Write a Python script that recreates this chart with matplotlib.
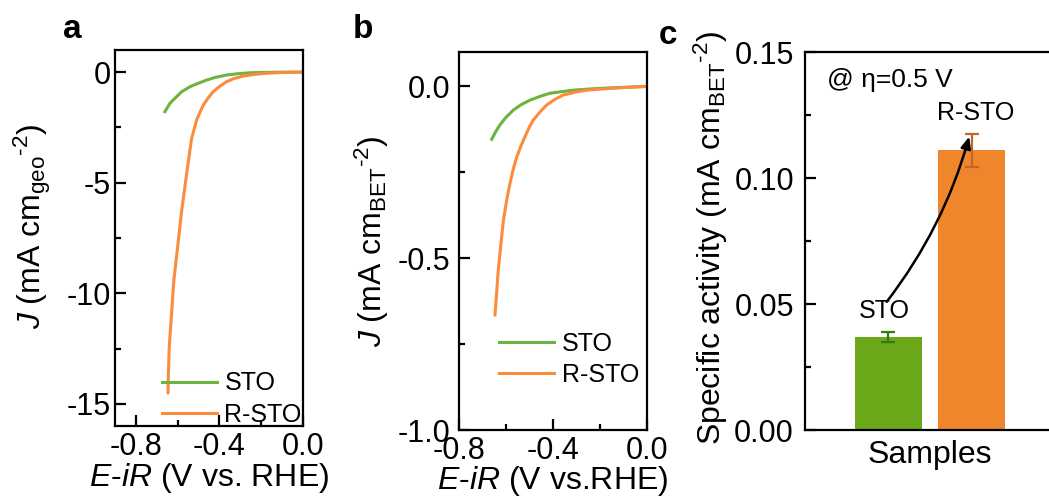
import matplotlib
matplotlib.use("Agg")
import matplotlib.pyplot as plt
from matplotlib.ticker import MultipleLocator

plt.rcParams['font.family'] = ['Liberation Sans', 'DejaVu Sans']
plt.rcParams['mathtext.fontset'] = 'custom'
plt.rcParams['mathtext.rm'] = 'Liberation Sans'
plt.rcParams['mathtext.it'] = 'Liberation Sans:italic'

# (a) LSV, geometric current density
a_sto_v = [-0.661, -0.637, -0.605, -0.58, -0.541, -0.50, -0.461, -0.42, -0.365,
           -0.31, -0.254, -0.2, -0.12, 0.0]
a_sto_j = [-1.79, -1.41, -1.11, -0.88, -0.66, -0.50, -0.36, -0.24, -0.13,
           -0.07, -0.03, -0.015, -0.005, 0.0]
a_rsto_v = [-0.646, -0.645, -0.640, -0.629, -0.618, -0.600, -0.581, -0.557, -0.533,
            -0.52, -0.509, -0.49, -0.477, -0.455, -0.429, -0.40, -0.365, -0.33,
            -0.286, -0.23, -0.174, -0.08, 0.0]
a_rsto_j = [-14.5, -13.9, -12.4, -10.9, -9.4, -7.9, -6.3, -4.6, -3.0,
            -2.55, -2.16, -1.75, -1.49, -1.18, -0.88, -0.65, -0.43, -0.29,
            -0.18, -0.10, -0.05, -0.01, 0.0]

# (b) LSV, BET-normalised current density
b_sto_v = [-0.661, -0.645, -0.626, -0.60, -0.569, -0.535, -0.498, -0.455, -0.413,
           -0.36, -0.314, -0.23, -0.143, -0.07, 0.0]
b_sto_j = [-0.154, -0.133, -0.112, -0.090, -0.069, -0.053, -0.040, -0.029, -0.020,
           -0.015, -0.011, -0.007, -0.004, -0.002, 0.0]
b_rsto_v = [-0.647, -0.640, -0.633, -0.622, -0.611, -0.597, -0.583, -0.569, -0.554,
            -0.537, -0.519, -0.502, -0.484, -0.455, -0.427, -0.39, -0.356, -0.30,
            -0.257, -0.18, -0.115, 0.0]
b_rsto_j = [-0.665, -0.600, -0.534, -0.460, -0.389, -0.330, -0.282, -0.240, -0.205,
            -0.174, -0.146, -0.120, -0.098, -0.074, -0.054, -0.037, -0.025, -0.016,
            -0.011, -0.007, -0.004, 0.0]

# (c) specific activity at eta = 0.5 V
samples = ['STO', 'R-STO']
activity = [0.037, 0.111]
activity_err = [0.002, 0.0065]

green_line = '#6db33f'
orange_line = '#fa8c3c'
green_bar = '#6aa819'
orange_bar = '#f0862c'

TICK_FS = 22
LABEL_FS = 23
LEG_FS = 18

fig = plt.figure(figsize=(10.49, 5.04), dpi=100)

ax_a = fig.add_axes([0.1096, 0.1548, 0.1792, 0.746])
ax_b = fig.add_axes([0.4376, 0.1468, 0.1792, 0.75])
ax_c = fig.add_axes([0.7674, 0.1468, 0.2383, 0.75])


def style_axes(ax, ypad, xpad=6):
    for s in ax.spines.values():
        s.set_linewidth(1.6)
    ax.tick_params(which='both', direction='in', top=False, right=False,
                   labelsize=TICK_FS, width=1.6)
    ax.tick_params(which='major', length=8)
    ax.tick_params(which='minor', length=4.5)
    ax.tick_params(axis='y', pad=ypad)
    ax.tick_params(axis='x', pad=xpad)


# ---- a ----
ax_a.plot(a_sto_v, a_sto_j, color=green_line, lw=2.2, label='STO')
ax_a.plot(a_rsto_v, a_rsto_j, color=orange_line, lw=2.2, label='R-STO')
ax_a.set_xlim(-0.9, 0.0)
ax_a.set_ylim(-16, 1)
ax_a.xaxis.set_minor_locator(MultipleLocator(0.2))
ax_a.yaxis.set_minor_locator(MultipleLocator(2.5))
ax_a.set_xticks([-0.8, -0.4, 0.0])
ax_a.set_xticklabels(['-0.8', '-0.4', '0.0'])
ax_a.set_yticks([0, -5, -10, -15])
ax_a.set_yticklabels(['0', '-5', '-10', '-15'])
style_axes(ax_a, 3, xpad=4)
ax_a.set_ylabel(r'$\mathit{J}$ (mA cm$_{\mathrm{geo}}$$^{\text{-2}}$)', fontsize=LABEL_FS)
ax_a.yaxis.set_label_coords(-0.33, 0.53)
ax_a.set_xlabel(r'$\mathit{E}$-$\mathit{iR}$ (V vs. RHE)', fontsize=LABEL_FS)
ax_a.xaxis.set_label_coords(0.5, -0.093)
ax_a.legend(loc='upper left', bbox_to_anchor=(0.25, 0.145), frameon=False,
            fontsize=LEG_FS, handlelength=2.2, handletextpad=0.3,
            labelspacing=0.3, borderpad=0, borderaxespad=0)

# ---- b ----
ax_b.plot(b_sto_v, b_sto_j, color=green_line, lw=2.2, label='STO')
ax_b.plot(b_rsto_v, b_rsto_j, color=orange_line, lw=2.2, label='R-STO')
ax_b.set_xlim(-0.8, 0.0)
ax_b.set_ylim(-1.0, 0.1)
ax_b.xaxis.set_minor_locator(MultipleLocator(0.2))
ax_b.yaxis.set_minor_locator(MultipleLocator(0.25))
ax_b.set_xticks([-0.8, -0.4, 0.0])
ax_b.set_xticklabels(['-0.8', '-0.4', '0.0'])
ax_b.set_yticks([0.0, -0.5, -1.0])
ax_b.set_yticklabels(['0.0', '-0.5', '-1.0'])
style_axes(ax_b, 6, xpad=4)
ax_b.set_ylabel(r'$\mathit{J}$ (mA cm$_{\mathrm{BET}}$$^{\text{-2}}$)', fontsize=LABEL_FS)
ax_b.yaxis.set_label_coords(-0.36, 0.5)
ax_b.set_xlabel(r'$\mathit{E}$-$\mathit{iR}$ (V vs.RHE)', fontsize=LABEL_FS)
ax_b.xaxis.set_label_coords(0.5, -0.09)
ax_b.legend(loc='upper left', bbox_to_anchor=(0.215, 0.26), frameon=False,
            fontsize=LEG_FS, handlelength=2.2, handletextpad=0.3,
            labelspacing=0.3, borderpad=0, borderaxespad=0)

# ---- c ----
xpos = [1, 2]
ax_c.bar(xpos, activity, width=0.8, color=[green_bar, orange_bar])
ax_c.errorbar(xpos[0], activity[0], yerr=activity_err[0], fmt='none',
              ecolor='#2f7a12', elinewidth=1.6, capsize=5, capthick=1.6)
ax_c.errorbar(xpos[1], activity[1], yerr=activity_err[1], fmt='none',
              ecolor='#c2652a', elinewidth=1.6, capsize=5, capthick=1.6)
ax_c.set_xlim(0, 3)
ax_c.set_ylim(0, 0.15)
ax_c.set_yticks([0.0, 0.05, 0.10, 0.15])
ax_c.set_yticklabels(['0.00', '0.05', '0.10', '0.15'])
ax_c.yaxis.set_minor_locator(MultipleLocator(0.025))
ax_c.set_xticks([])
style_axes(ax_c, 8)
ax_c.spines['right'].set_visible(False)
ax_c.set_ylabel(r'Specific activity (mA cm$_{\mathrm{BET}}$$^{\text{-2}}$)', fontsize=LABEL_FS)
ax_c.yaxis.set_label_coords(-0.30, 0.508)
ax_c.set_xlabel('Samples', fontsize=LABEL_FS)
ax_c.xaxis.set_label_coords(0.5, -0.026)

# sample names just above each error bar
for x, val, err, name, dx in zip(xpos, activity, activity_err, samples, [-0.05, 0.05]):
    ax_c.text(x + dx, val + err + 0.0083, name, ha='center', va='center', fontsize=18)
ax_c.text(0.26, 0.139, '@ η=0.5 V', ha='left', va='center', fontsize=19)
ax_c.annotate('', xy=(xpos[1] - 0.02, activity[1] + activity_err[1]),
              xytext=(xpos[0] - 0.04, activity[0] + 0.013),
              arrowprops=dict(arrowstyle='-|>,head_length=0.7,head_width=0.3',
                              color='black', lw=1.8,
                              connectionstyle='arc3,rad=0.1'))

# panel letters
fig.text(0.060, 0.925, 'a', fontsize=24, fontweight='bold', ha='left', va='baseline')
fig.text(0.336, 0.925, 'b', fontsize=24, fontweight='bold', ha='left', va='baseline')
fig.text(0.628, 0.912, 'c', fontsize=24, fontweight='bold', ha='left', va='baseline')

fig.savefig('out.png', dpi=100)
